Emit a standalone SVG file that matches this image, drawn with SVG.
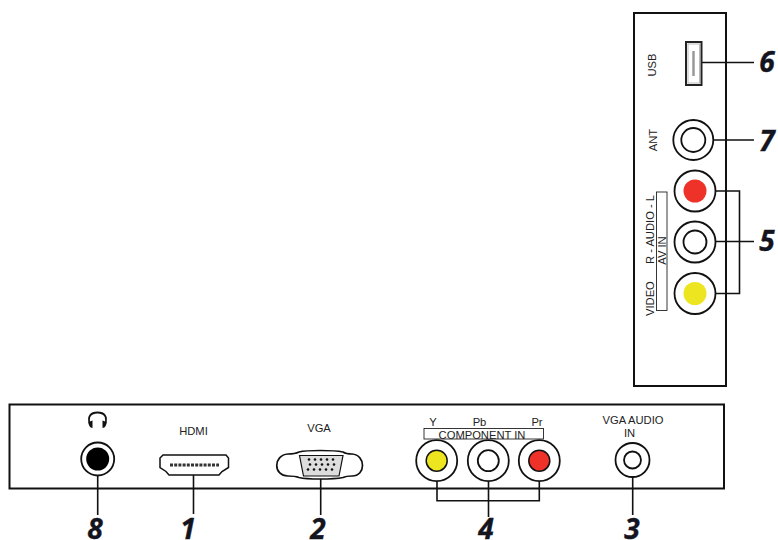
<svg xmlns="http://www.w3.org/2000/svg" width="778" height="540" viewBox="0 0 778 540">
<defs><style>
.panel{fill:#fff;stroke:#111;stroke-width:2}
.ln{fill:none;stroke:#111;stroke-width:1.6}
.ring{fill:#fff;stroke:#111;stroke-width:1.8}
.thin{fill:#fff;stroke:#222;stroke-width:.9}
.t{font-family:"Liberation Sans",Arial,sans-serif;font-size:11.2px;fill:#222;text-anchor:middle}
.n{font-family:"Open Sans",sans-serif;font-size:28px;font-weight:700;font-style:italic;fill:#14141e;stroke:#14141e;stroke-width:.4;text-anchor:middle}
</style></defs>
<rect width="778" height="540" fill="#fff"/>
<g id="side-panel"><rect class="panel" x="634" y="13" width="92" height="373"/></g>
<g id="bottom-panel"><rect class="panel" x="9.500" y="404.500" width="714.500" height="84"/></g>
<g id="connectors">
<path class="ln" d="M702 62.500H754M713 140H754M716 191H739.500V293.500H716M716 241.500H754"/>
<path class="ln" d="M97.700 475V515M193.500 475V514M320.700 478V515M437 481V500.700H539.300V481M488.500 481V517M632.700 477V515"/>
</g>
<g id="port-usb">
<rect x="686" y="42" width="15.500" height="43" fill="#fff" stroke="#222" stroke-width="2"/>
<rect x="688" y="44" width="11.500" height="39" fill="#fff" stroke="#bbb" stroke-width="1"/>
<path d="M693.500 51V76" stroke="#999" stroke-width="2.500" fill="none"/>
<text class="t" transform="translate(656 65) rotate(-90)">USB</text>
</g>
<g id="port-ant">
<circle class="ring" cx="693.300" cy="140" r="20"/><circle class="ring" cx="693.300" cy="140" r="12"/>
<text class="t" transform="translate(656.500 140) rotate(-90)">ANT</text>
</g>
<g id="port-av-l"><circle class="ring" cx="695" cy="191" r="20.500"/><circle cx="695" cy="191" r="11.500" fill="#ee3129"/></g>
<g id="port-av-r"><circle class="ring" cx="695" cy="242" r="20.500"/><circle class="ring" cx="695" cy="242" r="11.500"/></g>
<g id="port-av-video"><circle class="ring" cx="695" cy="293.500" r="20.500"/><circle cx="695" cy="293.500" r="11.500" fill="#ece51f"/></g>
<g id="label-av">
<rect class="thin" x="656.500" y="192" width="10.500" height="118.500"/>
<text class="t" transform="translate(665.500 250.500) rotate(-90)">AV IN</text>
<text class="t" style="text-anchor:start" transform="translate(654 316) rotate(-90)">VIDEO</text>
<text class="t" style="text-anchor:start" transform="translate(654 264) rotate(-90)">R - AUDIO - L</text>
</g>
<g id="port-headphone">
<path d="M90 425C87 416 91 412.500 97.500 412.500C104 412.500 108 416 105 425" fill="none" stroke="#111" stroke-width="1.800"/>
<path d="M88.500 422L92.500 420.500V428C90 428 88.500 425 88.500 422Z" fill="#111"/><path d="M106.500 422L102.500 420.500V428C105 428 106.500 425 106.500 422Z" fill="#111"/>
<circle class="ring" cx="97.700" cy="459" r="16.500"/><circle cx="97.700" cy="459" r="11.500" fill="#000"/>
</g>
<g id="port-hdmi">
<path d="M163 455H226L228.500 458V467.500L222 471.500L219 475H169L166 471.500L160 467.500V458Z" fill="#fff" stroke="#111" stroke-width="1.500"/>
<path d="M170 465H219" stroke="#333" stroke-width="3" stroke-dasharray="3 1.200" fill="none"/>
<text class="t" x="193.500" y="435">HDMI</text>
</g>
<g id="port-vga">
<path d="M299 452C307 450 333 450 343 452C346 454 349 454 352 454C366 455 366 476 352 476C349 476 346 476 343 477.500C333 479.500 307 479.500 299 477.500C295 476 292 476 288 476C273 476 273 455 288 454C292 454 295 454 299 452Z" fill="#fff" stroke="#111" stroke-width="1.700"/>
<path d="M299.500 455.500H343L339 476H303.500Z" fill="#ddd" stroke="#111" stroke-width="1.200"/>
<g fill="#111">
<circle cx="309" cy="459.500" r="1.300"/><circle cx="315" cy="459.500" r="1.300"/><circle cx="321" cy="459.500" r="1.300"/><circle cx="327" cy="459.500" r="1.300"/><circle cx="333" cy="459.500" r="1.300"/>
<circle cx="310" cy="464.500" r="1.300"/><circle cx="316" cy="464.500" r="1.300"/><circle cx="322" cy="464.500" r="1.300"/><circle cx="328" cy="464.500" r="1.300"/><circle cx="334" cy="464.500" r="1.300"/>
<circle cx="308" cy="469.500" r="1.300"/><circle cx="314" cy="469.500" r="1.300"/><circle cx="320" cy="469.500" r="1.300"/><circle cx="326" cy="469.500" r="1.300"/><circle cx="332" cy="469.500" r="1.300"/>
</g>
<text class="t" x="319" y="432">VGA</text>
</g>
<g id="port-y"><circle class="ring" cx="436.700" cy="460.700" r="20.500"/><circle cx="436.700" cy="460.700" r="10.500" fill="#ece51f" stroke="#111" stroke-width="1.500"/></g>
<g id="port-pb"><circle class="ring" cx="488.300" cy="460.700" r="20.500"/><circle class="ring" cx="488.300" cy="460.700" r="10.500"/></g>
<g id="port-pr"><circle class="ring" cx="539.300" cy="460.700" r="20.500"/><circle cx="539.300" cy="460.700" r="10.500" fill="#ee3129" stroke="#111" stroke-width="1.500"/></g>
<g id="label-component">
<rect class="thin" x="424" y="428.500" width="119.500" height="10.500"/>
<text class="t" x="433" y="425.500">Y</text><text class="t" x="479.500" y="425.500">Pb</text><text class="t" x="537" y="425.500">Pr</text>
<text class="t" x="482" y="438.500">COMPONENT IN</text>
</g>
<g id="port-vga-audio">
<circle class="ring" cx="632.500" cy="460" r="17"/><circle class="ring" cx="632.500" cy="460" r="8.500"/>
<text class="t" x="633" y="424">VGA AUDIO</text><text class="t" x="629.500" y="437">IN</text>
</g>
<g id="numbers">
<text class="n" x="767" y="72">6</text><text class="n" x="767" y="151">7</text><text class="n" x="767" y="251">5</text>
<text class="n" x="95" y="538.500">8</text><text class="n" x="188" y="539">1</text><text class="n" x="318" y="538.500">2</text><text class="n" x="486" y="539">4</text><text class="n" x="632" y="538.500">3</text>
</g>
</svg>
